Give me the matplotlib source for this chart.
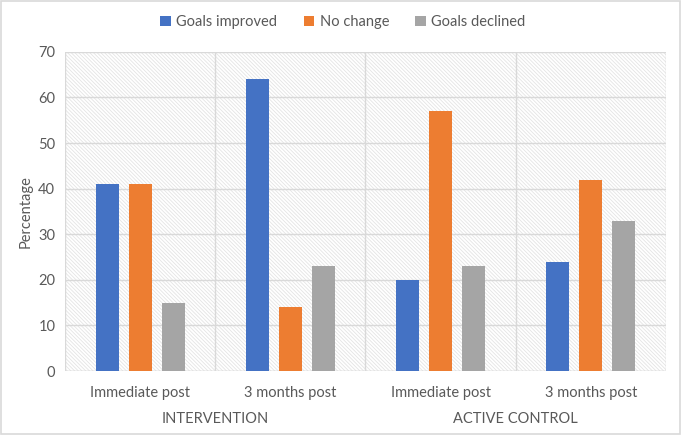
import matplotlib.pyplot as plt
import matplotlib.patches as mpatches
import numpy as np

plt.rcParams['font.family'] = ['Lato', 'DejaVu Sans']
plt.rcParams['hatch.linewidth'] = 0.6

# Data
periods = ['Immediate post', '3 months post', 'Immediate post', '3 months post']
groups = ['INTERVENTION', 'ACTIVE CONTROL']
improved = [41, 64, 20, 24]
no_change = [41, 14, 57, 42]
declined = [15, 23, 23, 33]
series = ['Goals improved', 'No change', 'Goals declined']
colors = ['#4472C4', '#ED7D31', '#A5A5A5']

fig = plt.figure(figsize=(6.82, 4.36), dpi=100)
ax = fig.add_axes([0.0953, 0.149, 0.8812, 0.732])

# hatched background
bg = mpatches.Rectangle((0, 0), 1, 1, transform=ax.transAxes, facecolor='white',
                        edgecolor='#e4e4e4', hatch='\\' * 9, linewidth=0, zorder=0)
ax.add_patch(bg)
ax.patch.set_alpha(0)

x = np.arange(len(periods))
w = 0.153
off = 0.22
for i, (vals, name, c) in enumerate(zip([improved, no_change, declined], series, colors)):
    ax.bar(x + (i - 1) * off, vals, w, color=c, label=name, zorder=3)

ax.set_xlim(-0.5, 3.5)
ax.set_ylim(0, 70)
ax.set_yticks(range(0, 71, 10))
ax.yaxis.grid(True, color='#d9d9d9', linewidth=1, zorder=1)
for xv in np.arange(-0.5, 3.6, 1):
    ax.axvline(xv, color='#d9d9d9', linewidth=1, zorder=1)
for s in ax.spines.values():
    s.set_visible(False)
ax.axhline(0, color='#d9d9d9', linewidth=1, zorder=2)

ax.set_xticks(x)
ax.set_xticklabels(periods)
ax.tick_params(axis='both', length=0, labelcolor='#595959', labelsize=10.5)
ax.tick_params(axis='x', pad=11)
ax.tick_params(axis='y', pad=7)
ax.set_ylabel('Percentage', fontsize=10.5, color='#595959', labelpad=4)

for gi, g in enumerate(groups):
    ax.text(gi * 2 + 0.5, -0.15, g, transform=ax.get_xaxis_transform(),
            ha='center', va='center', fontsize=10.5, color='#595959')

fig.legend(loc='center', bbox_to_anchor=(0.503, 0.95), ncol=3, frameon=False,
           fontsize=10.5, handlelength=0.7, handleheight=0.7, columnspacing=1.8,
           handletextpad=0.4, labelcolor='#595959')

fig.patches.append(mpatches.Rectangle((0.002, 0.004), 0.995, 0.993, transform=fig.transFigure,
                                      fill=False, edgecolor='#d9d9d9', linewidth=1.2))

fig.savefig('out.png', dpi=100)
